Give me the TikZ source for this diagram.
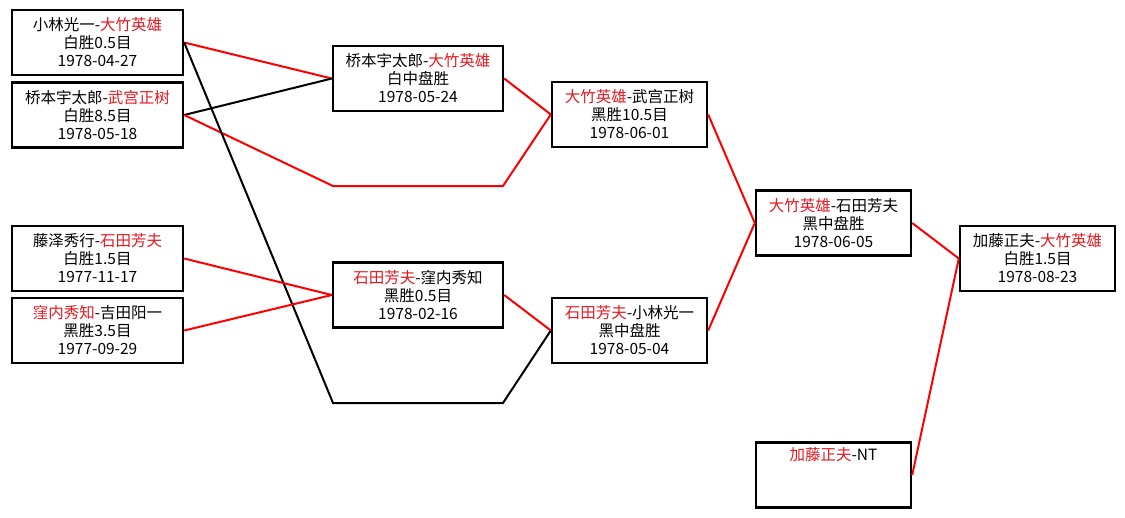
\documentclass[tikz,border=0pt]{standalone}
\usepackage{fontspec}
\setmainfont{Noto Sans CJK SC}
\definecolor{winred}{RGB}{228,24,32}
\newcommand{\win}[1]{\textcolor{winred}{#1}}

\begin{document}
\begin{tikzpicture}[x=1pt, y=-1pt,
  game/.style={draw, line width=2.4pt, align=center, inner sep=0pt,
    minimum height=65, font=\fontsize{15.5}{18}\selectfont},
  wline/.style={draw=red, line width=2pt},
  lline/.style={draw=black, line width=2pt}]
  \useasboundingbox (0,0) rectangle (1125,517);

  % 第一轮
  \node[game, minimum width=171] (kob) at (97.5,42.5) {小林光一-\win{大竹英雄}\\白胜0.5目\\1978-04-27};
  \node[game, minimum width=171] (hsk) at (97.5,115) {桥本宇太郎-\win{武宫正树}\\白胜8.5目\\1978-05-18};
  \node[game, minimum width=171] (fjs) at (97.5,258.5) {藤泽秀行-\win{石田芳夫}\\白胜1.5目\\1977-11-17};
  \node[game, minimum width=171] (kbu) at (97.5,330.5) {\win{窪内秀知}-吉田阳一\\黑胜3.5目\\1977-09-29};

  % 第二轮
  \node[game, minimum width=170] (hso) at (418,78.5) {桥本宇太郎-\win{大竹英雄}\\白中盘胜\\1978-05-24};
  \node[game, minimum width=170] (isd) at (418,295) {\win{石田芳夫}-窪内秀知\\黑胜0.5目\\1978-02-16};

  % 第三轮
  \node[game, minimum width=155] (ota) at (629.5,114.5) {\win{大竹英雄}-武宫正树\\黑胜10.5目\\1978-06-01};
  \node[game, minimum width=155] (ikb) at (629.5,330.5) {\win{石田芳夫}-小林光一\\黑中盘胜\\1978-05-04};

  % 挑战者决定战
  \node[game, minimum width=155] (oti) at (833.5,223) {\win{大竹英雄}-石田芳夫\\黑中盘胜\\1978-06-05};
  \node[game, minimum width=155] (kto) at (833.5,475) {\win{加藤正夫}-NT\\\strut\\\strut};

  % 决赛
  \node[game, minimum width=155] (fin) at (1037.5,258.5) {加藤正夫-\win{大竹英雄}\\白胜1.5目\\1978-08-23};

  % 折线用
  \coordinate (rb1) at (333,186);
  \coordinate (rb2) at (503,186);
  \coordinate (kb1) at (333,403);
  \coordinate (kb2) at (503,403);

  % 连线
  \draw[wline] (kob.east) -- (hso.west);
  \draw[lline] (hsk.east) -- (hso.west);
  \draw[wline] (hsk.east) -- (rb1) -- (rb2) -- (ota.west);
  \draw[lline] (kob.east) -- (kb1) -- (kb2) -- (ikb.west);
  \draw[wline] (fjs.east) -- (isd.west);
  \draw[wline] (kbu.east) -- (isd.west);
  \draw[wline] (hso.east) -- (ota.west);
  \draw[wline] (isd.east) -- (ikb.west);
  \draw[wline] (ota.east) -- (oti.west);
  \draw[wline] (ikb.east) -- (oti.west);
  \draw[wline] (oti.east) -- (fin.west);
  \draw[wline] (kto.east) -- (fin.west);
\end{tikzpicture}
\end{document}
